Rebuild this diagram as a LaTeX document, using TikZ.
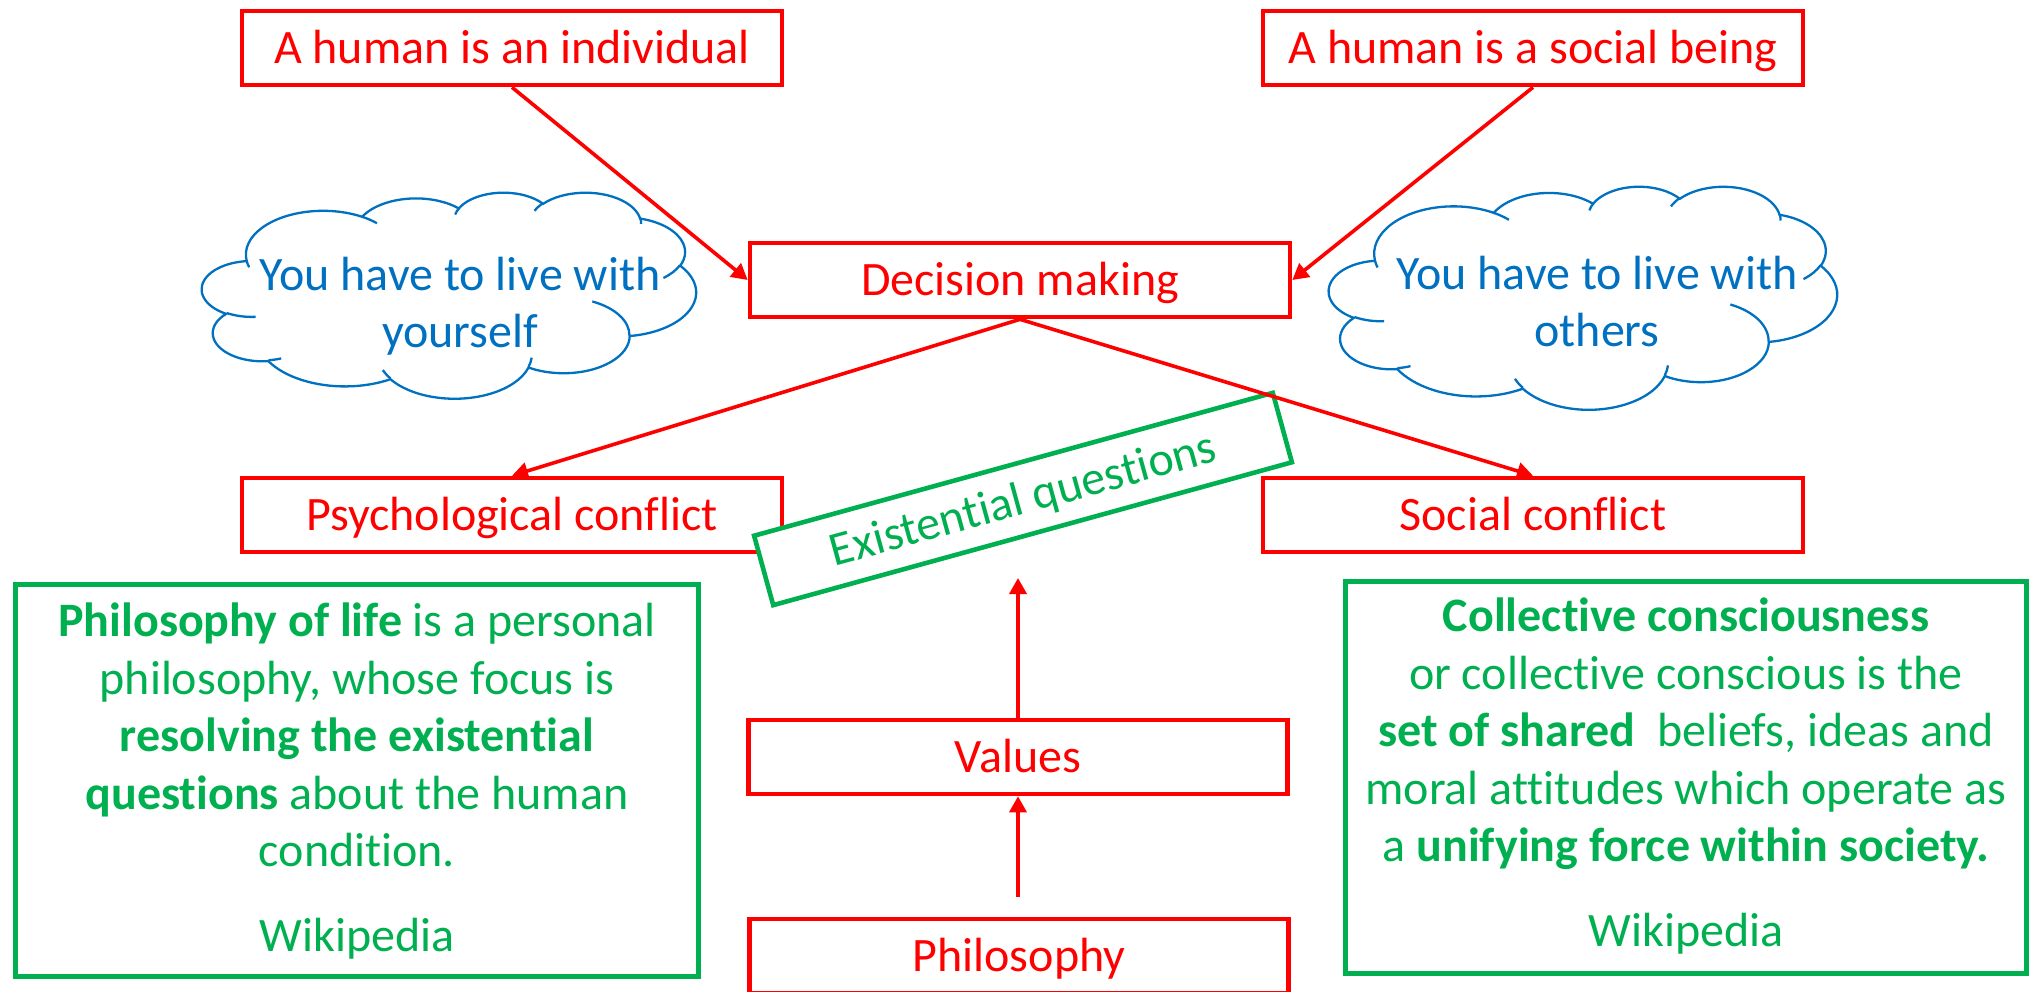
\documentclass[tikz,border=0pt]{standalone}
\usepackage{fontspec}
\setmainfont[Ligatures={NoCommon}]{Carlito}
\usetikzlibrary{arrows.meta}
\definecolor{cred}{RGB}{255,0,0}
\definecolor{cgreen}{RGB}{0,176,80}
\definecolor{cblue}{RGB}{0,112,192}
% Office-style cloud drawn in a 432 x 432 frame, scaled to (width,height) at (left,top)
\newcommand\officecloud[4]{%
  \begin{scope}[shift={(#1,#2)}, xscale=#3/432, yscale=#4/432]
    \draw[cloudline, fill=white] (39.00,143.70)
      arc[oarc={67.53}{91.90}{-190.487}{123.781}]
      arc[oarc={53.33}{72.67}{-144.102}{89.945}]
      arc[oarc={43.65}{59.45}{-145.808}{99.723}]
      arc[oarc={48.57}{65.95}{-130.986}{117.242}]
      arc[oarc={53.33}{72.73}{-78.709}{109.027}]
      arc[oarc={67.75}{92.20}{-46.267}{130.269}]
      arc[oarc={57.85}{78.67}{0.625}{114.033}]
      arc[oarc={67.52}{92.15}{22.452}{115.173}]
      arc[oarc={77.20}{105.43}{66.243}{75.711}]
      arc[oarc={43.60}{59.18}{-274.942}{146.736}]
      arc[oarc={43.45}{59.45}{-246.829}{152.519}] -- cycle;
    \draw[cloudline]
      (46.93,261.77) arc[oarc={43.45}{59.45}{86.742}{26.430}]
      (69.28,348.99) arc[oarc={43.60}{59.18}{73.610}{11.447}]
      (164.78,390.90) arc[oarc={67.52}{92.15}{137.624}{14.081}]
      (288.27,347.51) arc[oarc={67.52}{92.15}{6.453}{15.998}]
      (341.29,229.54) arc[oarc={57.85}{78.67}{-70.292}{70.917}]
      (417.98,153.54) arc[oarc={53.33}{72.73}{30.318}{27.752}]
      (383.24,54.26) arc[oarc={48.57}{65.95}{-13.744}{14.859}]
      (290.78,39.52) arc[oarc={48.57}{65.95}{-149.181}{18.195}]
      (221.41,47.20) arc[oarc={43.65}{59.45}{-163.494}{17.686}]
      (140.00,51.92) arc[oarc={67.53}{91.90}{-66.707}{12.319}]
      (41.27,157.89) arc[oarc={67.53}{91.90}{157.654}{11.858}];
  \end{scope}}
\begin{document}
\begin{tikzpicture}[x=0.5pt,y=-0.5pt,
  declare function={
    ppa(\r,\s,\a)=atan2(\r*sin(\a),\s*cos(\a));
    ppd(\r,\s,\a,\w)=ppa(\r,\s,\a+\w)-ppa(\r,\s,\a)+360*round((\w-(ppa(\r,\s,\a+\w)-ppa(\r,\s,\a)))/360);
  },
  oarc/.style n args={4}{start angle={ppa(#1,#2,#3)}, delta angle={ppd(#1,#2,#3,#4)}, x radius=#1, y radius=#2},
  cloudline/.style={draw=cblue, line width=1.15pt},
  bigfont/.style={font=\fontsize{24}{28.75}\selectfont},
  redbox/.style={draw=cred, line width=2.3pt, text=cred, fill=white,
    minimum width=270pt, minimum height=37pt, inner sep=0pt,
    text height=15pt, text depth=0pt, bigfont},
  greenbox/.style={draw=cgreen, line width=2.4pt, inner sep=0pt},
  eqbox/.style={draw=cgreen, line width=2.3pt, text=cgreen, fill=white,
    minimum width=269pt, minimum height=36pt, inner sep=0pt,
    text height=15pt, text depth=0pt, bigfont},
  arr/.style={draw=cred, line width=1.8pt, -{Triangle[length=8pt,width=8.5pt]}},
  bodytext/.style={inner sep=0pt, anchor=base, bigfont},
]
\useasboundingbox (0,0) rectangle (2033,991);
\clip (0,0) rectangle (2033,991);

% red boxes
\node[redbox] (ind) at (512,48) {A human is an individual};
\node[redbox] (soc) at (1533,48) {A human is a social being};
\node[redbox] (dec) at (1020,280) {Decision making};
\node[redbox] (psy) at (512,515) {Psychological conflict};
\node[redbox] (sco) at (1533,515) {Social conflict};
\node[redbox, minimum width=269.5pt] (val) at (1018,757) {Values};
\node[redbox, minimum width=269.5pt] (phi) at (1019,956) {Philosophy};

% clouds
\officecloud{202}{192}{494}{206}
\officecloud{1329}{186}{508}{223}
\node[bodytext, text=cblue] (clt) at (460,290) {\parbox[t]{240pt}{\centering You have to live with\\yourself}};
\node[bodytext, text=cblue] (crt) at (1597,289) {\parbox[t]{240pt}{\centering You have to live with\\others}};

% existential questions
\node[eqbox, rotate=15.4] (exq) at (1023,499) {Existential questions};

% green text boxes
\node[greenbox, minimum width=341.5pt, minimum height=196pt] (lb) at (357,780.5) {};
\node[greenbox, minimum width=340.5pt, minimum height=196pt] (rb) at (1686,777.5) {};
\node[bodytext, text=cgreen] (lbt) at (357,636.7) {\parbox[t]{330pt}{\centering
  \textbf{Philosophy of life} is a personal\\
  philosophy, whose focus is\\
  \textbf{resolving the existential}\\
  \textbf{questions} about the human\\
  condition.\\[13.75pt]
  Wikipedia}};
\node[bodytext, text=cgreen] (rbt) at (1686,631.7) {\parbox[t]{330pt}{\centering
  \textbf{Collective consciousness}\\
  or collective conscious is the\\
  \textbf{set of shared}~ beliefs, ideas and\\
  moral attitudes which operate as\\
  a \textbf{unifying force within society.}\\[13.75pt]
  Wikipedia}};

% arrows
\coordinate (exqtip) at (1018,578);
\coordinate (phitop) at (1018,897);
\draw[arr] (ind.south) -- (dec.west);
\draw[arr] (soc.south) -- (dec.east);
\draw[arr] (dec.south) -- (psy.north);
\draw[arr] (dec.south) -- (sco.north);
\draw[arr] (val.north) -- (exqtip);
\draw[arr] (phitop) -- (val.south);
\end{tikzpicture}
\end{document}
